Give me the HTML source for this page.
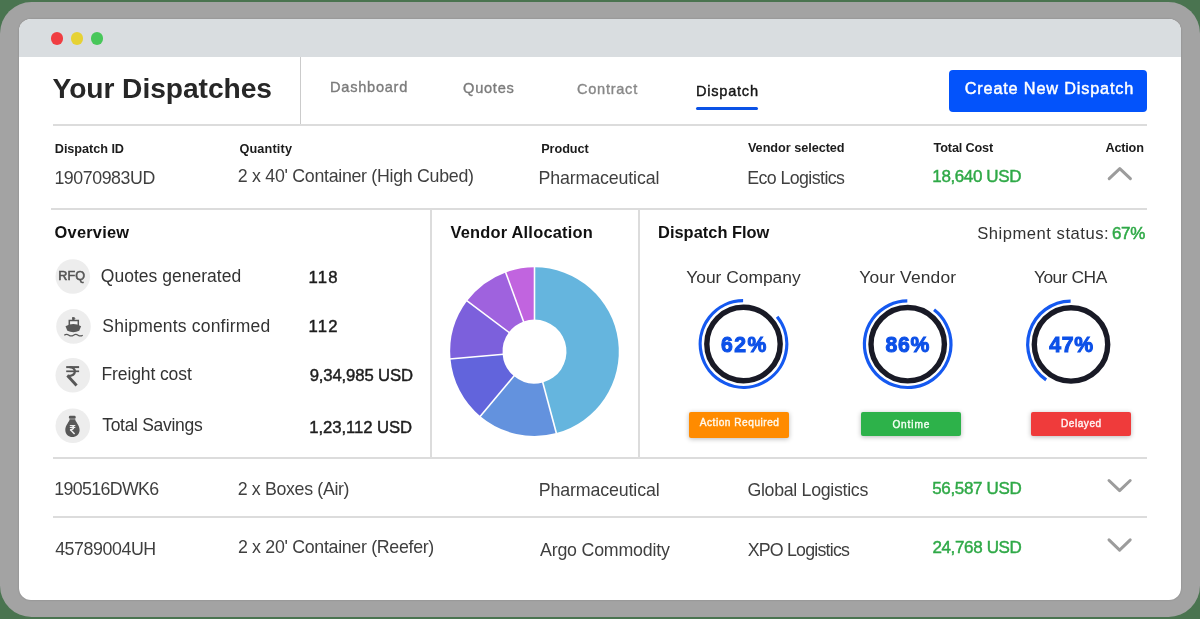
<!DOCTYPE html>
<html><head><meta charset="utf-8"><style>
*{margin:0;padding:0;box-sizing:border-box}
html,body{width:1200px;height:619px;overflow:hidden}
body{background:#4a7450;position:relative;font-family:"Liberation Sans",sans-serif}
.frame{position:absolute;left:0;top:1.5px;width:1200px;height:615.2px;background:#a3a3a3;border-radius:31.5px}
.win{position:absolute;left:18.5px;top:18.5px;width:1162px;height:581.5px;background:#fff;border-radius:12px;overflow:hidden;box-shadow:0 0 2px rgba(0,0,0,0.2)}
.tb{position:absolute;left:0;top:0;width:100%;height:38.5px;background:#d9dde0}
.dot{position:absolute;width:12.5px;height:12.5px;border-radius:50%;top:32px}
.t{position:absolute;white-space:pre;line-height:1}
.tl{position:absolute;left:0;top:0;width:1200px;height:619px;will-change:transform}
.ln{position:absolute;background:#dcdcdc}
.badge{position:absolute;border-radius:2px;box-shadow:0 1px 5px rgba(0,0,0,0.28)}
svg{position:absolute;left:0;top:0}
</style></head><body>
<div class="frame"></div>
<div class="win"><div class="tb"></div></div>
<div class="dot" style="left:50.8px;background:#f03d42"></div>
<div class="dot" style="left:70.6px;background:#e6d234"></div>
<div class="dot" style="left:90.9px;background:#48c75a"></div>
<div class="ln" style="left:300px;top:57px;width:1px;height:68px;background:#cbcbcb"></div>
<div class="ln" style="left:53px;top:124px;width:1094px;height:2px"></div>
<div class="ln" style="left:51px;top:208px;width:1096px;height:2px"></div>
<div class="ln" style="left:430px;top:210px;width:2px;height:247px"></div>
<div class="ln" style="left:638px;top:210px;width:1.5px;height:247px"></div>
<div class="ln" style="left:53px;top:457px;width:1094px;height:1.5px"></div>
<div class="ln" style="left:53px;top:516px;width:1094px;height:2px"></div>
<div style="position:absolute;left:696px;top:107px;width:62px;height:3px;border-radius:2px;background:#0b52e6"></div>
<div style="position:absolute;left:949px;top:70px;width:198px;height:41.5px;border-radius:4px;background:#0353fb"></div>
<div class="badge" style="left:688.5px;top:411.8px;width:100.5px;height:26px;background:#ff8b00"></div>
<div class="badge" style="left:861px;top:411.8px;width:100.2px;height:24px;background:#2db24a"></div>
<div class="badge" style="left:1031px;top:411.8px;width:100.2px;height:24px;background:#ef3b3b"></div>
<svg width="1200" height="619" viewBox="0 0 1200 619">
<path d="M534.50 267.30A84.3 84.3 0 0 1 556.32 433.03L542.78 382.51A32 32 0 0 0 534.50 319.60Z" fill="#65b5de"/><path d="M556.32 433.03A84.3 84.3 0 0 1 480.31 416.18L513.93 376.11A32 32 0 0 0 542.78 382.51Z" fill="#6392de"/><path d="M480.31 416.18A84.3 84.3 0 0 1 450.52 358.95L502.62 354.39A32 32 0 0 0 513.93 376.11Z" fill="#6264dc"/><path d="M450.52 358.95A84.3 84.3 0 0 1 467.18 300.87L508.94 332.34A32 32 0 0 0 502.62 354.39Z" fill="#7c60dc"/><path d="M467.18 300.87A84.3 84.3 0 0 1 505.67 272.38L523.56 321.53A32 32 0 0 0 508.94 332.34Z" fill="#9f62de"/><path d="M505.67 272.38A84.3 84.3 0 0 1 534.50 267.30L534.50 319.60A32 32 0 0 0 523.56 321.53Z" fill="#c164df"/><line x1="534.50" y1="320.60" x2="534.50" y2="266.30" stroke="#fff" stroke-width="1.6"/><line x1="542.52" y1="381.54" x2="556.58" y2="433.99" stroke="#fff" stroke-width="1.6"/><line x1="514.57" y1="375.35" x2="479.67" y2="416.94" stroke="#fff" stroke-width="1.6"/><line x1="503.62" y1="354.30" x2="449.52" y2="359.03" stroke="#fff" stroke-width="1.6"/><line x1="509.74" y1="332.94" x2="466.38" y2="300.27" stroke="#fff" stroke-width="1.6"/><line x1="523.90" y1="322.47" x2="505.33" y2="271.44" stroke="#fff" stroke-width="1.6"/>
<circle cx="743.5" cy="344" r="36.7" fill="none" stroke="#191a26" stroke-width="5.4"/><path d="M777.15 316.75A43.3 43.3 0 1 1 743.12 300.70" fill="none" stroke="#1559f0" stroke-width="3.2"/><circle cx="907.7" cy="344.2" r="36.7" fill="none" stroke="#191a26" stroke-width="5.4"/><path d="M934.06 309.85A43.3 43.3 0 1 1 907.32 300.90" fill="none" stroke="#1559f0" stroke-width="3.2"/><circle cx="1071" cy="344.4" r="36.7" fill="none" stroke="#191a26" stroke-width="5.4"/><path d="M1046.16 379.87A43.3 43.3 0 0 1 1070.62 301.10" fill="none" stroke="#1559f0" stroke-width="3.2"/>
<path d="M1109.2 178.6L1119.8 168.6L1130.4 178.6" fill="none" stroke="#9c9c9c" stroke-width="3" stroke-linecap="round" stroke-linejoin="round"/><path d="M1109.0 480.5L1119.6 490.6L1130.2 480.5" fill="none" stroke="#9c9c9c" stroke-width="3" stroke-linecap="round" stroke-linejoin="round"/><path d="M1109.0 539.9L1119.6 550.1L1130.2 539.9" fill="none" stroke="#9c9c9c" stroke-width="3" stroke-linecap="round" stroke-linejoin="round"/>
<circle cx="72.8" cy="276.5" r="17.3" fill="#ededed"/><circle cx="73.5" cy="326.4" r="17.3" fill="#ededed"/><circle cx="72.8" cy="375.3" r="17.3" fill="#ededed"/><circle cx="72.8" cy="425.8" r="17.3" fill="#ededed"/><g fill="#585858">
<rect x="72.2" y="317.2" width="2.4" height="3"/>
<path d="M72.3 317.2 L76 318.2 L72.3 319.2Z"/>
</g>
<rect x="69.3" y="320.5" width="9" height="5.5" fill="#f2f2f2" stroke="#585858" stroke-width="1.5"/>
<path d="M65.5 326.2 Q73.3 322 81.1 326.2 L79.2 330.8 Q73.3 333.6 67.4 330.8 Z" fill="#585858"/>
<path d="M64.3 335.2 q2.3 -1.5 4.6 0 t4.6 0 t4.6 0 t4.6 0" fill="none" stroke="#585858" stroke-width="1.3"/><g fill="none" stroke="#575757">
<path d="M66.2 367.1 H79.1" stroke-width="2"/>
<path d="M66.2 371.3 H79.1" stroke-width="1.7"/>
<path d="M69.5 367.1 C76.5 367.1 77.5 376 67.6 376" stroke-width="2.3"/>
<path d="M67.4 375.6 L76.6 385.4" stroke-width="2.9"/>
</g><rect x="68.9" y="415.8" width="6.8" height="3" rx="1.2" fill="#585858"/>
<path d="M69.6 419.2 L75.2 419.2 C75.2 421.5 79.6 425 79.6 430 C79.6 434.5 76 437.1 72.4 437.1 C68.8 437.1 65.3 434.5 65.3 430 C65.3 425 69.6 421.5 69.6 419.2 Z" fill="#585858"/>
<g fill="none" stroke="#f0f0f0">
<path d="M69.8 425.6 H75.3" stroke-width="1.1"/>
<path d="M69.8 427.5 H75.3" stroke-width="1"/>
<path d="M71.4 425.6 C74.5 425.6 74.8 429.6 70.2 429.6" stroke-width="1.2"/>
<path d="M70.2 429.4 L74.6 434" stroke-width="1.5"/>
</g>
</svg>
<div class="tl"><div class="t" style="left:52.51px;top:74.13px;font-size:28.2px;font-weight:700;letter-spacing:-0.065px;color:#272727;">Your Dispatches</div><div class="t" style="left:330.01px;top:80.47px;font-size:14.6px;font-weight:400;letter-spacing:0.740px;color:#7b7b7b;-webkit-text-stroke:0.35px #7b7b7b;">Dashboard</div><div class="t" style="left:463.04px;top:80.50px;font-size:14.6px;font-weight:400;letter-spacing:0.744px;color:#7b7b7b;-webkit-text-stroke:0.35px #7b7b7b;">Quotes</div><div class="t" style="left:576.93px;top:82.27px;font-size:14.6px;font-weight:400;letter-spacing:0.733px;color:#878787;-webkit-text-stroke:0.35px #878787;">Contract</div><div class="t" style="left:695.90px;top:83.61px;font-size:14.6px;font-weight:400;letter-spacing:0.768px;color:#151515;-webkit-text-stroke:0.39999999999999997px #151515;">Dispatch</div><div class="t" style="left:964.71px;top:80.44px;font-size:16.3px;font-weight:400;letter-spacing:0.818px;color:#ffffff;-webkit-text-stroke:0.45px #ffffff;">Create New Dispatch</div><div class="t" style="left:54.79px;top:142.70px;font-size:12.7px;font-weight:700;letter-spacing:-0.055px;color:#1c1c1c;">Dispatch ID</div><div class="t" style="left:239.39px;top:142.70px;font-size:12.7px;font-weight:700;letter-spacing:0.168px;color:#1c1c1c;">Quantity</div><div class="t" style="left:541.13px;top:143.13px;font-size:12.7px;font-weight:700;letter-spacing:-0.039px;color:#1c1c1c;">Product</div><div class="t" style="left:747.92px;top:142.12px;font-size:12.7px;font-weight:700;letter-spacing:-0.044px;color:#1c1c1c;">Vendor selected</div><div class="t" style="left:933.60px;top:141.95px;font-size:12.7px;font-weight:700;letter-spacing:-0.164px;color:#1c1c1c;">Total Cost</div><div class="t" style="left:1105.55px;top:141.92px;font-size:12.7px;font-weight:700;letter-spacing:-0.223px;color:#1c1c1c;">Action</div><div class="t" style="left:54.41px;top:169.70px;font-size:17.8px;font-weight:400;letter-spacing:-0.438px;color:#3f3f3f;">19070983UD</div><div class="t" style="left:237.83px;top:167.70px;font-size:17.8px;font-weight:400;letter-spacing:-0.293px;color:#3f3f3f;">2 x 40' Container (High Cubed)</div><div class="t" style="left:538.49px;top:170.30px;font-size:17.8px;font-weight:400;letter-spacing:-0.123px;color:#3f3f3f;">Pharmaceutical</div><div class="t" style="left:747.23px;top:170.30px;font-size:17.8px;font-weight:400;letter-spacing:-0.586px;color:#3f3f3f;">Eco Logistics</div><div class="t" style="left:932.35px;top:168.00px;font-size:17.0px;font-weight:400;letter-spacing:-0.394px;color:#2fa947;-webkit-text-stroke:0.45px #2fa947;">18,640 USD</div><div class="t" style="left:54.56px;top:223.92px;font-size:16.4px;font-weight:700;letter-spacing:0.235px;color:#111111;">Overview</div><div class="t" style="left:450.41px;top:224.14px;font-size:16.4px;font-weight:700;letter-spacing:0.230px;color:#111111;">Vendor Allocation</div><div class="t" style="left:658.06px;top:224.12px;font-size:16.4px;font-weight:700;letter-spacing:0.018px;color:#111111;">Dispatch Flow</div><div class="t" style="left:977.19px;top:225.78px;font-size:16.6px;font-weight:400;letter-spacing:0.521px;color:#333333;">Shipment status:</div><div class="t" style="left:1111.88px;top:224.86px;font-size:17.0px;font-weight:400;letter-spacing:-0.255px;color:#2fa947;-webkit-text-stroke:0.5px #2fa947;">67%</div><div class="t" style="left:100.75px;top:268.13px;font-size:17.5px;font-weight:400;letter-spacing:0.026px;color:#333333;">Quotes generated</div><div class="t" style="left:102.35px;top:318.31px;font-size:17.5px;font-weight:400;letter-spacing:0.191px;color:#333333;">Shipments confirmed</div><div class="t" style="left:101.53px;top:366.32px;font-size:17.5px;font-weight:400;letter-spacing:-0.108px;color:#333333;">Freight cost</div><div class="t" style="left:102.23px;top:417.11px;font-size:17.5px;font-weight:400;letter-spacing:-0.306px;color:#333333;">Total Savings</div><div class="t" style="left:308.49px;top:269.55px;font-size:16.7px;font-weight:400;letter-spacing:1.187px;color:#1e1e1e;-webkit-text-stroke:0.45px #1e1e1e;">118</div><div class="t" style="left:308.49px;top:319.35px;font-size:16.7px;font-weight:400;letter-spacing:1.213px;color:#1e1e1e;-webkit-text-stroke:0.45px #1e1e1e;">112</div><div class="t" style="left:309.65px;top:367.68px;font-size:16.7px;font-weight:400;letter-spacing:-0.131px;color:#1e1e1e;-webkit-text-stroke:0.45px #1e1e1e;">9,34,985 USD</div><div class="t" style="left:309.34px;top:419.99px;font-size:16.7px;font-weight:400;letter-spacing:-0.078px;color:#1e1e1e;-webkit-text-stroke:0.45px #1e1e1e;">1,23,112 USD</div><div class="t" style="left:686.32px;top:268.60px;font-size:17.4px;font-weight:400;letter-spacing:-0.012px;color:#333333;">Your Company</div><div class="t" style="left:859.36px;top:269.01px;font-size:17.4px;font-weight:400;letter-spacing:0.158px;color:#333333;">Your Vendor</div><div class="t" style="left:1033.89px;top:269.33px;font-size:17.4px;font-weight:400;letter-spacing:-0.476px;color:#333333;">Your CHA</div><div class="t" style="left:720.96px;top:334.44px;font-size:21.2px;font-weight:700;letter-spacing:1.518px;color:#0c50e8;-webkit-text-stroke:1.0px #0c50e8;">62%</div><div class="t" style="left:885.38px;top:333.84px;font-size:21.2px;font-weight:700;letter-spacing:0.841px;color:#0c50e8;-webkit-text-stroke:1.0px #0c50e8;">86%</div><div class="t" style="left:1049.32px;top:334.44px;font-size:21.2px;font-weight:700;letter-spacing:0.747px;color:#0c50e8;-webkit-text-stroke:1.0px #0c50e8;">47%</div><div class="t" style="left:699.71px;top:418.46px;font-size:10.1px;font-weight:400;letter-spacing:0.533px;color:#fff8ec;-webkit-text-stroke:0.4px #fff8ec;">Action Required</div><div class="t" style="left:892.39px;top:419.88px;font-size:10.1px;font-weight:400;letter-spacing:0.874px;color:#f4fff4;-webkit-text-stroke:0.4px #f4fff4;">Ontime</div><div class="t" style="left:1060.98px;top:418.90px;font-size:10.1px;font-weight:400;letter-spacing:0.531px;color:#fff4f4;-webkit-text-stroke:0.4px #fff4f4;">Delayed</div><div class="t" style="left:54.25px;top:481.30px;font-size:17.8px;font-weight:400;letter-spacing:-0.642px;color:#3f3f3f;">190516DWK6</div><div class="t" style="left:237.69px;top:481.10px;font-size:17.8px;font-weight:400;letter-spacing:-0.341px;color:#3f3f3f;">2 x Boxes (Air)</div><div class="t" style="left:538.75px;top:482.30px;font-size:17.8px;font-weight:400;letter-spacing:-0.131px;color:#3f3f3f;">Pharmaceutical</div><div class="t" style="left:747.44px;top:482.30px;font-size:17.8px;font-weight:400;letter-spacing:-0.310px;color:#3f3f3f;">Global Logistics</div><div class="t" style="left:932.28px;top:480.19px;font-size:17.0px;font-weight:400;letter-spacing:-0.352px;color:#2fa947;-webkit-text-stroke:0.45px #2fa947;">56,587 USD</div><div class="t" style="left:55.15px;top:540.90px;font-size:17.8px;font-weight:400;letter-spacing:-0.415px;color:#3f3f3f;">45789004UH</div><div class="t" style="left:237.88px;top:539.30px;font-size:17.8px;font-weight:400;letter-spacing:-0.305px;color:#3f3f3f;">2 x 20' Container (Reefer)</div><div class="t" style="left:540.06px;top:542.10px;font-size:17.8px;font-weight:400;letter-spacing:-0.206px;color:#3f3f3f;">Argo Commodity</div><div class="t" style="left:747.63px;top:542.29px;font-size:17.8px;font-weight:400;letter-spacing:-0.781px;color:#3f3f3f;">XPO Logistics</div><div class="t" style="left:932.39px;top:538.79px;font-size:17.0px;font-weight:400;letter-spacing:-0.344px;color:#2fa947;-webkit-text-stroke:0.45px #2fa947;">24,768 USD</div><div class="t" style="left:58.18px;top:270.35px;font-size:12.6px;font-weight:400;letter-spacing:0.150px;color:#555555;-webkit-text-stroke:0.6px #555555;">RFQ</div></div>
</body></html>
